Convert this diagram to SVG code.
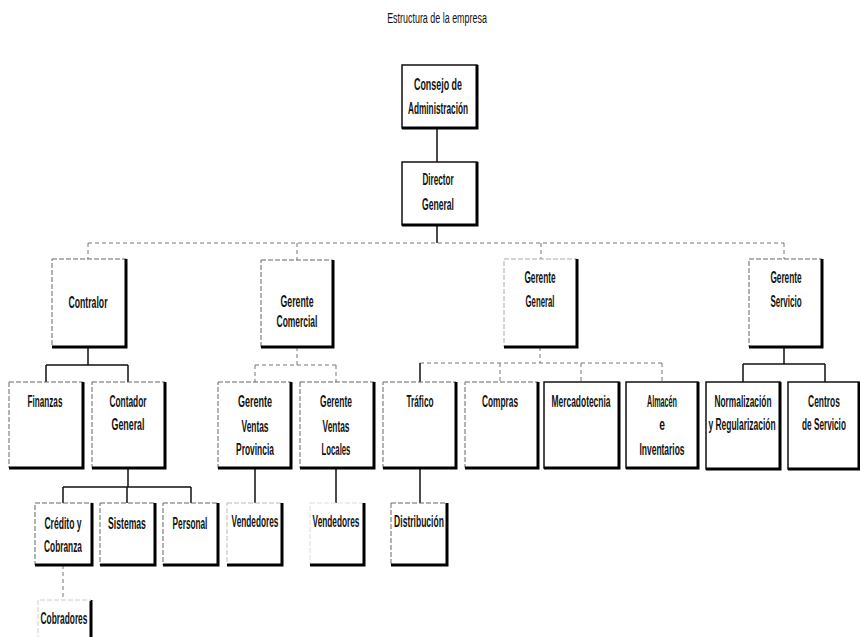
<svg xmlns="http://www.w3.org/2000/svg" width="860" height="637" viewBox="0 0 860 637">
<style>
.bx{fill:#fff;stroke:#666;stroke-width:1;stroke-dasharray:5 2}
.bs{fill:#fff;stroke:#111;stroke-width:1.5}
.sh{fill:none;stroke:#000;stroke-width:3}
.t{font-family:"Liberation Sans",Arial,sans-serif;font-size:17px;font-weight:bold;fill:#111;text-anchor:middle}
.ttl{font-family:"Liberation Sans",Arial,sans-serif;font-size:14px;fill:#111;text-anchor:middle}
.cs{fill:none;stroke:#111;stroke-width:1.5}
.cd{fill:none;stroke:#777;stroke-width:1;stroke-dasharray:4 3}
</style>
<rect width="860" height="637" fill="#fff"/>
<text class="ttl" transform="translate(437,23) scale(0.75,1)" textLength="133" lengthAdjust="spacingAndGlyphs">Estructura de la empresa</text>
<g id="connectors">
<path class="cs" d="M437,128V162M437,225V243"/>
<path class="cd" d="M88,243H784M88,243V259M297,243V260M541,243V259M784,243V259"/>
<path class="cs" d="M88,347V365M46,365H128M46,365V382M128,365V382"/>
<path class="cs" d="M128,468V487M63,487H191M63,487V503M127,487V503M191,487V503"/>
<path class="cd" d="M63,565V600"/>
<path class="cd" d="M297,347V365M255,365H336M255,365V382M336,365V382"/>
<path class="cs" d="M255,468V503M336,468V503M420,468V503"/>
<path class="cd" d="M540,347V363M420,363H662M500,363V382M581,363V382M662,363V382"/>
<path class="cs" d="M420,363V382"/>
<path class="cs" d="M784,347V364M743,364H825M743,364V382M825,364V382"/>
</g>
<g id="consejo"><rect class="bs" x="402" y="65" width="75" height="63"/><path class="sh" d="M477,65V128H402"/>
<text class="t" transform="translate(438,90) scale(0.6,1)" textLength="80" lengthAdjust="spacingAndGlyphs">Consejo de</text>
<text class="t" transform="translate(438,114) scale(0.6,1)" textLength="100" lengthAdjust="spacingAndGlyphs">Administración</text></g>
<g id="director"><rect class="bs" x="402" y="162" width="75" height="63"/><path class="sh" d="M477,162V225H402"/>
<text class="t" transform="translate(438,185) scale(0.6,1)" textLength="52" lengthAdjust="spacingAndGlyphs">Director</text>
<text class="t" transform="translate(438,210) scale(0.6,1)" textLength="53" lengthAdjust="spacingAndGlyphs">General</text></g>
<g id="contralor"><rect class="bx" x="52" y="259" width="74" height="88"/><path class="sh" d="M126,259V347H52"/>
<text class="t" transform="translate(88,308) scale(0.6,1)" textLength="65" lengthAdjust="spacingAndGlyphs">Contralor</text></g>
<g id="gerente-comercial"><rect class="bx" x="261" y="260" width="72" height="87"/><path class="sh" d="M333,260V347H261"/>
<text class="t" transform="translate(297,307) scale(0.6,1)" textLength="55" lengthAdjust="spacingAndGlyphs">Gerente</text>
<text class="t" transform="translate(297,327) scale(0.6,1)" textLength="68" lengthAdjust="spacingAndGlyphs">Comercial</text></g>
<g id="gerente-general"><rect class="bx" x="504" y="259" width="73" height="88" style="stroke:#aaa"/><path class="sh" d="M577,259V347H504"/>
<text class="t" transform="translate(540,283) scale(0.6,1)" textLength="52" lengthAdjust="spacingAndGlyphs">Gerente</text>
<text class="t" transform="translate(540,307) scale(0.6,1)" textLength="48" lengthAdjust="spacingAndGlyphs">General</text></g>
<g id="gerente-servicio"><rect class="bx" x="749" y="259" width="73" height="88"/><path class="sh" d="M822,259V347H749"/>
<text class="t" transform="translate(786,283) scale(0.6,1)" textLength="52" lengthAdjust="spacingAndGlyphs">Gerente</text>
<text class="t" transform="translate(786,307) scale(0.6,1)" textLength="52" lengthAdjust="spacingAndGlyphs">Servicio</text></g>
<g id="finanzas"><rect class="bx" x="9" y="382" width="74" height="86"/><path class="sh" d="M83,382V468H9"/>
<text class="t" transform="translate(45,407) scale(0.6,1)" textLength="58" lengthAdjust="spacingAndGlyphs">Finanzas</text></g>
<g id="contador-general"><rect class="bx" x="92" y="382" width="73" height="86"/><path class="sh" d="M165,382V468H92"/>
<text class="t" transform="translate(128,407) scale(0.6,1)" textLength="62" lengthAdjust="spacingAndGlyphs">Contador</text>
<text class="t" transform="translate(128,430) scale(0.6,1)" textLength="55" lengthAdjust="spacingAndGlyphs">General</text></g>
<g id="credito"><rect class="bx" x="35" y="503" width="57" height="62"/><path class="sh" d="M92,503V565H35"/>
<text class="t" transform="translate(63,529) scale(0.6,1)" textLength="62" lengthAdjust="spacingAndGlyphs">Crédito y</text>
<text class="t" transform="translate(63,552) scale(0.6,1)" textLength="63" lengthAdjust="spacingAndGlyphs">Cobranza</text></g>
<g id="sistemas"><rect class="bx" x="100" y="503" width="55" height="62"/><path class="sh" d="M155,503V565H100"/>
<text class="t" transform="translate(127,529) scale(0.6,1)" textLength="63" lengthAdjust="spacingAndGlyphs">Sistemas</text></g>
<g id="personal"><rect class="bx" x="163" y="503" width="55" height="62"/><path class="sh" d="M218,503V565H163"/>
<text class="t" transform="translate(190,529) scale(0.6,1)" textLength="58" lengthAdjust="spacingAndGlyphs">Personal</text></g>
<g id="cobradores"><path class="sh" d="M91,600V640"/><path class="bx" d="M38,640V600H91" style="stroke:#ccc"/>
<text class="t" transform="translate(64,624) scale(0.6,1)" textLength="78" lengthAdjust="spacingAndGlyphs">Cobradores</text></g>
<g id="gv-provincia"><rect class="bx" x="218" y="382" width="73" height="86"/><path class="sh" d="M291,382V468H218"/>
<text class="t" transform="translate(255,407) scale(0.6,1)" textLength="57" lengthAdjust="spacingAndGlyphs">Gerente</text>
<text class="t" transform="translate(255,432) scale(0.6,1)" textLength="45" lengthAdjust="spacingAndGlyphs">Ventas</text>
<text class="t" transform="translate(255,455) scale(0.6,1)" textLength="63" lengthAdjust="spacingAndGlyphs">Provincia</text></g>
<g id="gv-locales"><rect class="bx" x="300" y="382" width="74" height="86"/><path class="sh" d="M374,382V468H300"/>
<text class="t" transform="translate(336,407) scale(0.6,1)" textLength="53" lengthAdjust="spacingAndGlyphs">Gerente</text>
<text class="t" transform="translate(336,432) scale(0.6,1)" textLength="45" lengthAdjust="spacingAndGlyphs">Ventas</text>
<text class="t" transform="translate(336,455) scale(0.6,1)" textLength="48" lengthAdjust="spacingAndGlyphs">Locales</text></g>
<g id="vendedores-1"><rect class="bx" x="227" y="503" width="55" height="62" style="stroke:#bbb"/><path class="sh" d="M282,503V565H227"/>
<text class="t" transform="translate(255,527) scale(0.6,1)" textLength="78" lengthAdjust="spacingAndGlyphs">Vendedores</text></g>
<g id="vendedores-2"><rect class="bx" x="310" y="503" width="54" height="62" style="stroke:#ddd"/><path class="sh" d="M364,503V565H310"/>
<text class="t" transform="translate(336,527) scale(0.6,1)" textLength="78" lengthAdjust="spacingAndGlyphs">Vendedores</text></g>
<g id="trafico"><rect class="bx" x="383" y="382" width="73" height="86"/><path class="sh" d="M456,382V468H383"/>
<text class="t" transform="translate(420,407) scale(0.6,1)" textLength="45" lengthAdjust="spacingAndGlyphs">Tráfico</text></g>
<g id="distribucion"><rect class="bx" x="391" y="503" width="56" height="62"/><path class="sh" d="M447,503V565H391"/>
<text class="t" transform="translate(419,527) scale(0.6,1)" textLength="83" lengthAdjust="spacingAndGlyphs">Distribución</text></g>
<g id="compras"><rect class="bx" x="465" y="382" width="73" height="86"/><path class="sh" d="M538,382V468H465"/>
<text class="t" transform="translate(500,407) scale(0.6,1)" textLength="60" lengthAdjust="spacingAndGlyphs">Compras</text></g>
<g id="mercadotecnia"><rect class="bs" x="544" y="382" width="75" height="86"/><path class="sh" d="M619,382V468H544"/>
<text class="t" transform="translate(581,407) scale(0.6,1)" textLength="98" lengthAdjust="spacingAndGlyphs">Mercadotecnia</text></g>
<g id="almacen"><rect class="bs" x="626" y="382" width="72" height="86"/><path class="sh" d="M698,382V468H626"/>
<text class="t" transform="translate(662,407) scale(0.6,1)" textLength="50" lengthAdjust="spacingAndGlyphs">Almacén</text>
<text class="t" transform="translate(662,430) scale(0.6,1)">e</text>
<text class="t" transform="translate(662,455) scale(0.6,1)" textLength="75" lengthAdjust="spacingAndGlyphs">Inventarios</text></g>
<g id="normalizacion"><rect class="bs" x="706" y="382" width="74" height="87"/><path class="sh" d="M780,382V469H706"/>
<text class="t" transform="translate(743,407) scale(0.6,1)" textLength="95" lengthAdjust="spacingAndGlyphs">Normalización</text>
<text class="t" transform="translate(742,430) scale(0.6,1)" textLength="112" lengthAdjust="spacingAndGlyphs">y Regularización</text></g>
<g id="centros"><rect class="bs" x="788" y="382" width="71" height="87"/><path class="sh" d="M859,382V469H788"/>
<text class="t" transform="translate(824,407) scale(0.6,1)" textLength="53" lengthAdjust="spacingAndGlyphs">Centros</text>
<text class="t" transform="translate(824,430) scale(0.6,1)" textLength="73" lengthAdjust="spacingAndGlyphs">de Servicio</text></g>
</svg>
